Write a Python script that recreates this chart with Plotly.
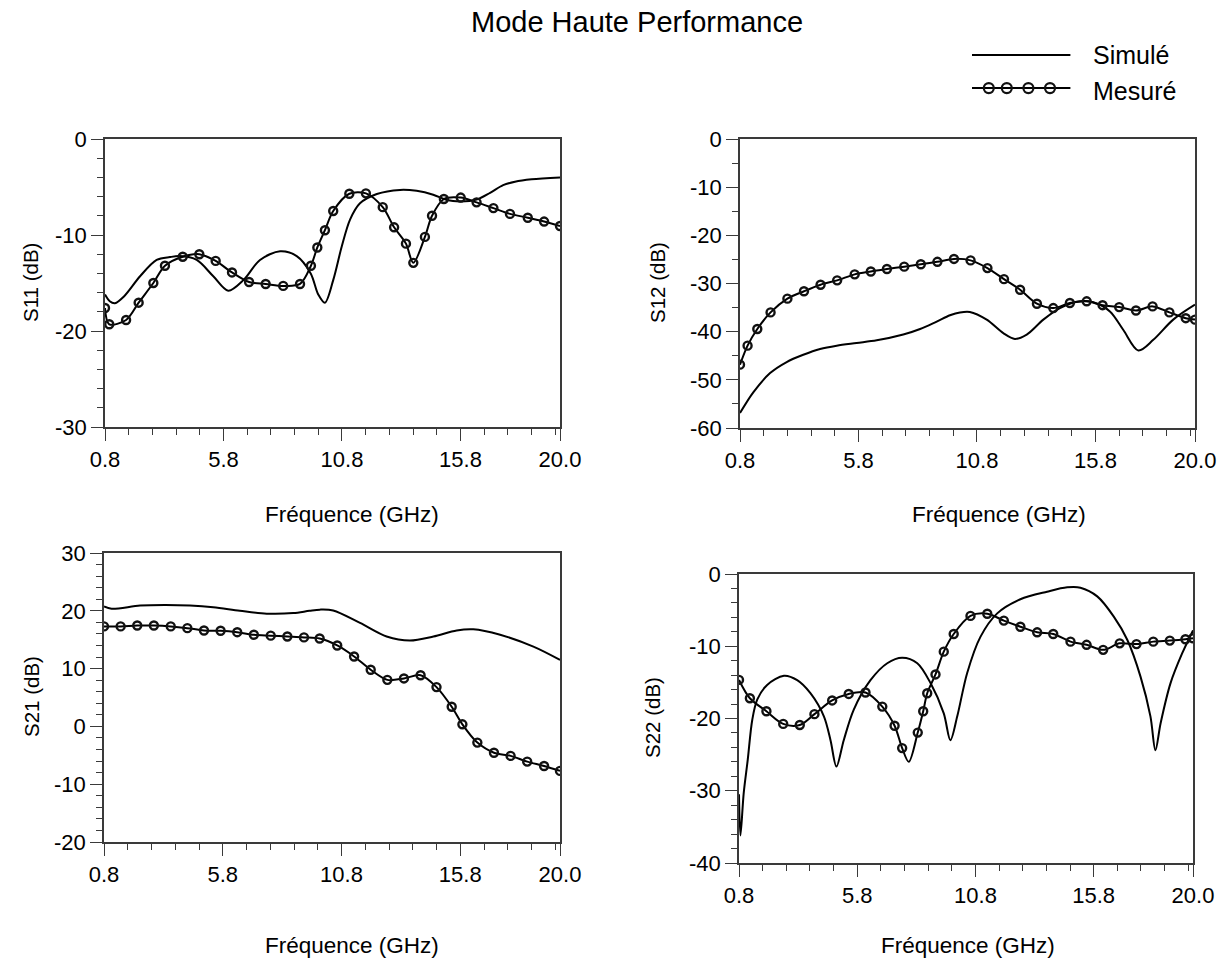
import plotly.graph_objects as go

# ---------------------------------------------------------------- data
FREQ_TICKS = [0.8, 5.8, 10.8, 15.8, 20.0]
FREQ_TICK_TEXT = ["0.8", "5.8", "10.8", "15.8", "20.0"]

# S11 (dB)
s11_sim_f = [0.8, 1.0, 1.22, 1.6, 2.28, 2.98, 3.54, 3.96, 4.67, 5.37, 6.0, 6.64, 7.34, 8.19, 8.89,
             9.48, 9.8, 10.08, 10.43, 10.79, 11.14, 11.56, 12.27, 13.25, 13.95, 14.65, 15.22,
             15.8, 16.48, 17.05, 17.6, 18.1, 18.8, 20.0]
s11_sim_db = [-16.2, -16.9, -17.1, -16.4, -14.3, -12.6, -12.3, -12.2, -12.6, -14.3, -15.8, -14.7,
              -12.6, -11.7, -12.2, -14.0, -16.2, -17.05, -14.7, -11.2, -8.4, -6.7, -5.73, -5.3,
              -5.4, -5.8, -6.35, -6.5, -6.3, -5.6, -4.8, -4.45, -4.2, -4.0]
s11_meas_f = [0.8, 0.98, 1.69, 2.22, 2.84, 3.33, 4.08, 4.78, 5.47, 6.16, 6.88, 7.58, 8.32, 9.03,
              9.49, 9.76, 10.08, 10.43, 11.11, 11.81, 12.52, 13.0, 13.5, 13.81, 14.3, 14.6, 15.1,
              15.81, 16.48, 17.19, 17.89, 18.64, 19.33, 20.0]
s11_meas_db = [-17.6, -19.3, -18.85, -17.05, -15.0, -13.2, -12.26, -12.0, -12.7, -13.9, -14.9,
               -15.1, -15.3, -15.1, -13.2, -11.3, -9.5, -7.5, -5.7, -5.66, -7.1, -9.2, -10.9,
               -12.9, -10.2, -8.0, -6.25, -6.1, -6.6, -7.2, -7.8, -8.2, -8.6, -9.06]

# S12 (dB)
s12_sim_f = [0.8, 1.36, 2.07, 2.77, 3.47, 4.18, 4.88, 5.72, 6.57, 7.69, 8.4, 9.1, 9.66, 10.08,
             10.5, 11.21, 11.91, 12.4, 12.9, 13.6, 14.3, 15.15, 15.71, 16.41, 16.97, 17.61,
             18.24, 19.08, 20.0]
s12_sim_db = [-56.9, -52.6, -48.6, -46.3, -44.8, -43.6, -42.9, -42.35, -41.8, -40.6, -39.45,
              -37.9, -36.6, -36.0, -35.9, -37.5, -40.3, -41.5, -40.6, -37.5, -35.1, -33.7,
              -33.9, -35.8, -39.6, -43.9, -41.7, -37.5, -34.4]
s12_meas_f = [0.8, 1.12, 1.53, 2.09, 2.8, 3.5, 4.2, 4.9, 5.64, 6.32, 7.0, 7.73, 8.43, 9.13, 9.83,
              10.53, 11.24, 11.94, 12.62, 13.33, 14.02, 14.72, 15.43, 16.1, 16.8, 17.51, 18.21,
              18.92, 19.61, 20.0]
s12_meas_db = [-46.85, -42.9, -39.45, -36.0, -33.15, -31.6, -30.25, -29.35, -28.1, -27.5, -27.0,
               -26.5, -26.0, -25.5, -24.9, -25.2, -26.8, -29.1, -31.3, -34.2, -35.1, -34.05,
               -33.7, -34.5, -34.9, -35.6, -34.75, -36.0, -37.2, -37.5]

# S21 (dB)
s21_sim_f = [0.8, 1.12, 2.32, 3.4, 4.42, 5.4, 6.52, 7.65, 8.77, 9.45, 9.89, 10.45, 11.58, 12.7,
             13.68, 14.67, 15.65, 16.35, 17.48, 18.88, 20.0]
s21_sim_db = [20.75, 20.35, 20.9, 21.0, 20.9, 20.6, 20.0, 19.5, 19.6, 20.0, 20.2, 20.05, 17.9,
              15.55, 14.85, 15.55, 16.6, 16.8, 15.85, 13.8, 11.5]
s21_meas_f = [0.8, 1.5, 2.2, 2.9, 3.61, 4.31, 5.01, 5.71, 6.41, 7.11, 7.82, 8.52, 9.22, 9.88,
              10.62, 11.33, 12.03, 12.73, 13.43, 14.13, 14.8, 15.44, 15.89, 16.52, 17.22, 17.92,
              18.62, 19.33, 20.0]
s21_meas_db = [17.3, 17.3, 17.45, 17.45, 17.3, 17.0, 16.6, 16.55, 16.3, 15.85, 15.7, 15.55,
               15.4, 15.2, 14.0, 12.1, 9.8, 8.05, 8.3, 8.85, 6.8, 3.4, 0.36, -2.8, -4.55, -5.1,
               -6.1, -6.85, -7.7]

# S22 (dB)
s22_sim_f = [0.8, 0.86, 1.0, 1.17, 1.36, 1.57, 1.99, 2.7, 3.26, 3.82, 4.39, 4.67, 4.92, 5.23,
             5.65, 6.36, 7.07, 7.7, 8.34, 8.9, 9.46, 9.74, 10.03, 10.45, 11.01, 11.72, 12.7,
             13.83, 14.68, 15.24, 15.95, 16.65, 17.22, 17.78, 18.2, 18.41, 18.63, 19.05, 19.54,
             20.0]
s22_sim_db = [-30.5, -36.2, -30.3, -25.7, -20.2, -17.4, -15.35, -14.1, -14.7, -16.5, -19.7,
              -23.0, -26.65, -23.0, -18.8, -14.7, -12.35, -11.6, -12.35, -15.1, -19.3, -23.0,
              -19.7, -13.7, -8.7, -5.45, -3.5, -2.45, -1.85, -1.9, -3.1, -5.9, -9.1, -14.2,
              -19.7, -24.4, -20.65, -15.1, -11.0, -7.8]
s22_meas_f = [0.8, 1.26, 1.96, 2.67, 3.37, 3.99, 4.74, 5.44, 6.15, 6.86, 7.38, 7.7, 7.98, 8.36,
              8.59, 8.76, 9.11, 9.46, 9.88, 10.59, 11.3, 12.0, 12.7, 13.41, 14.09, 14.82, 15.5,
              16.2, 16.9, 17.61, 18.32, 19.02, 19.68, 20.0]
s22_meas_db = [-14.66, -17.2, -19.0, -20.75, -20.9, -19.4, -17.5, -16.6, -16.4, -18.35, -21.0,
               -24.1, -26.0, -21.95, -19.0, -16.5, -13.9, -10.75, -8.3, -5.8, -5.5, -6.45, -7.3,
               -8.07, -8.3, -9.36, -9.8, -10.5, -9.6, -9.7, -9.36, -9.22, -9.03, -8.9]
# the measured S22 minimum is a point on the trace, not a marker position
s22_meas_marked = [True] * len(s22_meas_f)
s22_meas_marked[12] = False

PANELS = [
    # name, sim f, sim dB, meas f, meas dB, y range, y major, y minor
    ("S11 (dB)", s11_sim_f, s11_sim_db, s11_meas_f, s11_meas_db, (-30, 0), [0, -10, -20, -30], 2),
    ("S12 (dB)", s12_sim_f, s12_sim_db, s12_meas_f, s12_meas_db, (-60, 0),
     [0, -10, -20, -30, -40, -50, -60], 5),
    ("S21 (dB)", s21_sim_f, s21_sim_db, s21_meas_f, s21_meas_db, (-20, 30),
     [30, 20, 10, 0, -10, -20], 2),
    ("S22 (dB)", s22_sim_f, s22_sim_db, s22_meas_f, s22_meas_db, (-40, 0),
     [0, -10, -20, -30, -40], 2),
]

# ---------------------------------------------------------------- layout geometry (pixels)
W, H = 1228, 961
FONT = "Liberation Sans, Arial, sans-serif"
AXIS_COLOR = "#3a3a3a"

# plot-area boxes: left, right, top, bottom
BOXES = [
    (105, 560, 139, 427),
    (740, 1195, 139, 428),
    (104, 560, 553, 842),
    (739, 1193, 574, 863),
]
YTITLE_POS = [(31, 283), (658, 283), (31, 697), (652, 718)]
XTITLE_POS = [(352, 514), (999, 514), (352, 945), (968, 945)]


def px_x(x):
    return x / W


def px_y(y):
    return 1 - y / H


fig = go.Figure()
annotations = []

for i, (name, sf, sdb, mf, mdb, yr, ymaj, yminor) in enumerate(PANELS):
    k = i + 1
    xa = "x" if k == 1 else f"x{k}"
    ya = "y" if k == 1 else f"y{k}"

    fig.add_trace(go.Scatter(
        x=sf, y=sdb, mode="lines", xaxis=xa, yaxis=ya,
        line=dict(color="black", width=2, shape="spline", smoothing=0.9),
        showlegend=False, hoverinfo="skip"))

    marked = s22_meas_marked if i == 3 else [True] * len(mf)
    fig.add_trace(go.Scatter(
        x=mf, y=mdb, mode="lines+markers", xaxis=xa, yaxis=ya,
        line=dict(color="black", width=2, shape="spline", smoothing=0.9),
        marker=dict(symbol=["circle-open" if m else "line-ew" for m in marked],
                    size=[8 if m else 0 for m in marked], color="#111111", opacity=1,
                    line=dict(width=2.4, color="#111111")),
        showlegend=False, hoverinfo="skip"))

    l, r, t, b = BOXES[i]
    xkey = "xaxis" if k == 1 else f"xaxis{k}"
    ykey = "yaxis" if k == 1 else f"yaxis{k}"
    fig.update_layout(**{
        xkey: dict(
            domain=[px_x(l), px_x(r)], anchor=ya, range=[0.8, 20.0], automargin=False,
            tickmode="array", tickvals=FREQ_TICKS, ticktext=FREQ_TICK_TEXT,
            ticks="outside", ticklen=12, tickwidth=1.3, tickcolor=AXIS_COLOR,
            showline=True, linecolor=AXIS_COLOR, linewidth=1.5, mirror=True,
            showgrid=False, zeroline=False, fixedrange=True,
            tickfont=dict(family=FONT, size=22, color="black"),
            minor=dict(tickmode="linear", tick0=0.8, dtick=1, ticks="outside",
                       ticklen=6, tickwidth=1.2, tickcolor=AXIS_COLOR, showgrid=False),
        ),
        ykey: dict(
            domain=[px_y(b), px_y(t)], anchor=xa, range=list(yr), automargin=False,
            tickmode="array", tickvals=ymaj, ticktext=[str(v) for v in ymaj],
            ticks="outside", ticklen=12, tickwidth=1.3, tickcolor=AXIS_COLOR,
            showline=True, linecolor=AXIS_COLOR, linewidth=1.5, mirror=True,
            showgrid=False, zeroline=False, fixedrange=True,
            tickfont=dict(family=FONT, size=22, color="black"),
            minor=dict(tickmode="linear", tick0=0, dtick=yminor, ticks="outside",
                       ticklen=6, tickwidth=1.2, tickcolor=AXIS_COLOR, showgrid=False),
        ),
    })

    yx, yy = YTITLE_POS[i]
    annotations.append(dict(text=name, x=px_x(yx), y=px_y(yy), xref="paper", yref="paper",
                            showarrow=False, textangle=-90, xanchor="center", yanchor="middle",
                            font=dict(family=FONT, size=20.5, color="black")))
    xx, xy = XTITLE_POS[i]
    annotations.append(dict(text="Fréquence (GHz)", x=px_x(xx), y=px_y(xy), xref="paper",
                            yref="paper", showarrow=False, xanchor="center", yanchor="middle",
                            font=dict(family=FONT, size=22.5, color="black")))

# ---------------------------------------------------------------- key (legend) in its own hidden axes
KEY_LINE_X = [0.1, 0.92]
KEY_MARK_X = [0.24, 0.39, 0.57, 0.75]
fig.add_trace(go.Scatter(x=KEY_LINE_X, y=[0.77, 0.77], mode="lines", xaxis="x5", yaxis="y5",
                         line=dict(color="black", width=2), showlegend=False, hoverinfo="skip"))
fig.add_trace(go.Scatter(x=KEY_LINE_X, y=[0.26, 0.26], mode="lines", xaxis="x5", yaxis="y5",
                         line=dict(color="black", width=2), showlegend=False, hoverinfo="skip"))
fig.add_trace(go.Scatter(x=KEY_MARK_X, y=[0.26] * 4, mode="markers", xaxis="x5", yaxis="y5",
                         marker=dict(symbol="circle-open", size=10, color="#111111", opacity=1,
                                     line=dict(width=2.2, color="#111111")),
                         showlegend=False, hoverinfo="skip"))
fig.update_layout(
    xaxis5=dict(domain=[px_x(960), px_x(1080)], range=[0, 1], visible=False, anchor="y5",
                fixedrange=True, automargin=False),
    yaxis5=dict(domain=[px_y(105), px_y(40)], range=[0, 1], visible=False, anchor="x5",
                fixedrange=True, automargin=False),
)
annotations.append(dict(text="Simulé", x=px_x(1091), y=px_y(55), xref="paper", yref="paper",
                        showarrow=False, xanchor="left", yanchor="middle",
                        font=dict(family=FONT, size=25, color="black")))
annotations.append(dict(text="Mesuré", x=px_x(1091), y=px_y(91), xref="paper", yref="paper",
                        showarrow=False, xanchor="left", yanchor="middle",
                        font=dict(family=FONT, size=25, color="black")))

# title
annotations.append(dict(text="Mode Haute Performance", x=px_x(637), y=px_y(22), xref="paper",
                        yref="paper", showarrow=False, xanchor="center", yanchor="middle",
                        font=dict(family=FONT, size=29, color="black")))

fig.update_layout(
    template="none",
    width=W, height=H, margin=dict(l=0, r=0, t=0, b=0, pad=0, autoexpand=False),
    paper_bgcolor="white", plot_bgcolor="white",
    showlegend=False, annotations=annotations,
    font=dict(family=FONT, color="black"),
)

fig.write_html("out.html")
